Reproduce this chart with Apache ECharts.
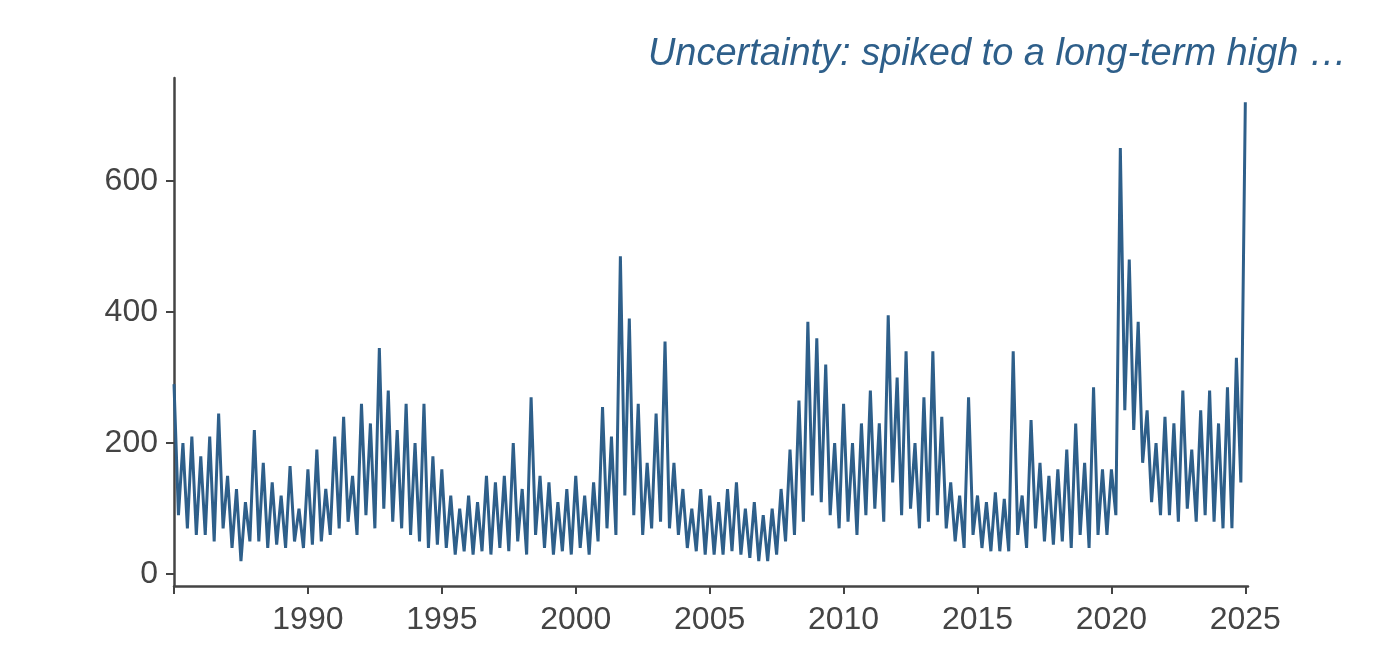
<!DOCTYPE html><html><head><meta charset="utf-8">
<script src="https://cdn.jsdelivr.net/npm/echarts@6/dist/echarts.min.js"></script>
<style>body{margin:0}#c{width:1386px;height:660px}</style></head><body><div id="c"></div>
<script>
const startYear = 1985;
const perYear = 6;
const values = [
290,90,200,70,210,60, 180,60,210,50,245,70, 150,40,130,20,110,50, 220,50,170,40,140,45,
120,40,165,50,100,40, 160,45,190,50,130,60, 210,70,240,80,150,60, 260,90,230,70,345,100,
280,80,220,70,260,60, 200,50,260,40,180,45, 160,40,120,30,100,35, 120,30,110,35,150,30,
140,40,150,35,200,50, 130,30,270,60,150,40, 140,30,110,35,130,30, 150,40,120,30,140,50,
255,70,210,60,485,120, 390,90,260,60,170,70, 245,80,355,70,170,60, 130,40,100,35,130,30,
120,30,110,30,130,35, 140,30,100,25,110,20, 90,20,100,30,130,50, 190,60,265,80,385,120,
360,110,320,90,200,70, 260,80,200,60,230,90, 280,100,230,80,395,140, 300,90,340,100,200,70,
270,80,340,90,240,70, 140,50,120,40,270,60, 120,40,110,35,125,35, 115,35,340,60,120,40,
235,70,170,50,150,45, 160,50,190,40,230,60, 170,40,285,60,160,60, 160,90,650,250,480,220,
385,170,250,110,200,90, 240,90,230,80,280,100, 190,80,250,90,280,80, 230,70,285,70,330,140,
720];
const xTicks = [1990,1995,2000,2005,2010,2015,2020,2025];
const yTicks = [0,200,400,600];
const data = values.map((v,i)=>[startYear + i/perYear, v]);
const chart = echarts.init(document.getElementById('c'));
const txt = {color:'#444', fontSize:32, fontFamily:'Liberation Sans, Arial'};
chart.setOption({
  animation:false,
  title:{text:'Uncertainty: spiked to a long-term high …', right:34, top:30,
    textStyle:{color:'#2e5f8a', fontSize:38, fontStyle:'italic', fontWeight:'normal', fontFamily:'Liberation Sans, Arial'}},
  grid:{left:174, right:138, top:78, bottom:74},
  xAxis:{type:'value', min:1985, max:2025.1, splitLine:{show:false},
    axisLine:{onZero:false, lineStyle:{color:'#444', width:2.5}},
    axisTick:{customValues:[1985].concat(xTicks), length:8, lineStyle:{color:'#444', width:2}},
    axisLabel:Object.assign({customValues:xTicks, margin:18, formatter:v=>String(v)}, txt)},
  yAxis:{type:'value', min:-18, max:757, splitLine:{show:false},
    axisLine:{show:true, lineStyle:{color:'#444', width:2.5}},
    axisTick:{show:true, customValues:yTicks, length:8, lineStyle:{color:'#444', width:2}},
    axisLabel:Object.assign({customValues:yTicks, margin:16}, txt)},
  series:[{type:'line', data:data, showSymbol:false, lineStyle:{color:'#2e5f8a', width:3}}]
});
</script></body></html>
